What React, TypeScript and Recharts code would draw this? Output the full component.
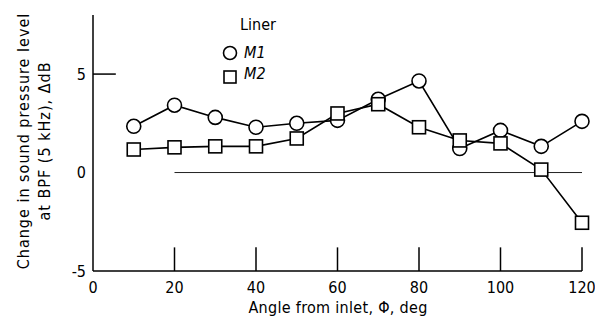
import React from "react";
import {
  ComposedChart,
  Line,
  XAxis,
  YAxis,
  ReferenceLine,
} from "recharts";

const angles = [10, 20, 30, 40, 50, 60, 70, 80, 90, 100, 110, 120];
const m1Values = [2.35, 3.42, 2.8, 2.3, 2.5, 2.65, 3.72, 4.65, 1.22, 2.14, 1.33, 2.6];
const m2Values = [1.17, 1.28, 1.33, 1.33, 1.73, 3.0, 3.47, 2.3, 1.63, 1.48, 0.15, -2.55];
const xTicks = [0, 20, 40, 60, 80, 100, 120];
const yTicks = [-5, 0, 5];
const innerXTicks = [20, 40, 60, 80, 100, 120];
const innerYTicks = [5];

const data = angles.map((a, i) => ({ angle: a, m1: m1Values[i], m2: m2Values[i] }));

const FONT = "'DejaVu Sans Condensed', 'Liberation Sans Narrow', sans-serif";

const CircleDot = (props: any) => {
  const { cx, cy } = props;
  if (cx == null || cy == null) return null;
  return <circle cx={cx} cy={cy} r={7} fill="#fff" stroke="#000" strokeWidth={1.6} />;
};

const SquareDot = (props: any) => {
  const { cx, cy } = props;
  if (cx == null || cy == null) return null;
  return (
    <rect x={cx - 6.5} y={cy - 6.5} width={13} height={13} fill="#fff" stroke="#000" strokeWidth={1.6} />
  );
};

export default function App() {
  return (
    <div style={{ position: "absolute", left: 0, top: 0, width: 595, height: 317, background: "#fff", fontFamily: FONT }}>
      <ComposedChart
        width={595}
        height={317}
        data={data}
        margin={{ top: 15, right: 13, bottom: 0, left: 0 }}
      >
        <XAxis
          dataKey="angle"
          type="number"
          domain={[0, 120]}
          ticks={xTicks}
          tickLine={false}
          tickSize={6}
          tickMargin={5}
          axisLine={{ stroke: "#000", strokeWidth: 1.5 }}
          tick={{ fill: "#000", fontSize: 16, fontFamily: FONT }}
          height={46}
          interval={0}
        />
        <YAxis
          type="number"
          domain={[-5, 8]}
          ticks={yTicks}
          tickLine={false}
          tickSize={4}
          tickMargin={3}
          axisLine={{ stroke: "#000", strokeWidth: 1.5 }}
          tick={{ fill: "#000", fontSize: 16, fontFamily: FONT }}
          width={93}
          interval={0}
          allowDataOverflow
        />
        <ReferenceLine
          segment={[{ x: 20, y: 0 }, { x: 120, y: 0 }]}
          stroke="#222"
          strokeWidth={1}
        />
        {innerXTicks.map((t) => (
          <ReferenceLine
            key={"xt" + t}
            segment={[{ x: t, y: -5 }, { x: t, y: -3.8 }]}
            stroke="#000"
            strokeWidth={1.5}
          />
        ))}
        {innerYTicks.map((t) => (
          <ReferenceLine
            key={"yt" + t}
            segment={[{ x: 0, y: t }, { x: 5.6, y: t }]}
            stroke="#000"
            strokeWidth={1.5}
          />
        ))}
        <Line
          dataKey="m1"
          stroke="#000"
          strokeWidth={1.6}
          dot={<CircleDot />}
          activeDot={false}
          isAnimationActive={false}
        />
        <Line
          dataKey="m2"
          stroke="#000"
          strokeWidth={1.6}
          dot={<SquareDot />}
          activeDot={false}
          isAnimationActive={false}
        />
      </ComposedChart>

      {/* Legend */}
      <div style={{ position: "absolute", left: 240, top: 15, fontSize: 16, lineHeight: "20px", color: "#000" }}>Liner</div>
      <svg style={{ position: "absolute", left: 220, top: 42 }} width={20} height={44}>
        <circle cx={10} cy={11} r={6.5} fill="#fff" stroke="#000" strokeWidth={1.6} />
        <rect x={4} y={29} width={12} height={12} fill="#fff" stroke="#000" strokeWidth={1.6} />
      </svg>
      <div style={{ position: "absolute", left: 244, top: 43, fontSize: 16, lineHeight: "20px", fontStyle: "italic", color: "#000" }}>M1</div>
      <div style={{ position: "absolute", left: 244, top: 64, fontSize: 16, lineHeight: "20px", fontStyle: "italic", color: "#000" }}>M2</div>

      {/* X axis label */}
      <div style={{ position: "absolute", left: 338, top: 299, transform: "translateX(-50%)", fontSize: 16, lineHeight: "18px", whiteSpace: "nowrap", color: "#000", letterSpacing: 0.3 }}>
        Angle from inlet, Φ, deg
      </div>

      {/* Y axis label */}
      <div
        style={{
          position: "absolute",
          left: 34,
          top: 141,
          transform: "translate(-50%, -50%) rotate(-90deg)",
          fontSize: 16,
          lineHeight: "21px",
          whiteSpace: "nowrap",
          textAlign: "center",
          color: "#000",
          letterSpacing: 1,
        }}
      >
        Change in sound pressure level
        <br />
        at BPF (5 kHz), ΔdB
      </div>
    </div>
  );
}
